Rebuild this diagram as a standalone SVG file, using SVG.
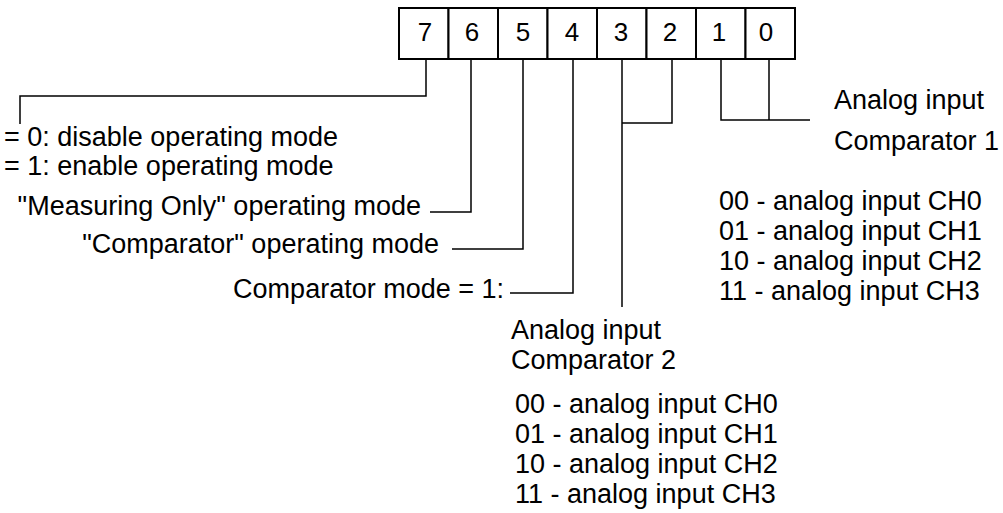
<svg xmlns="http://www.w3.org/2000/svg" width="1003" height="513" viewBox="0 0 1003 513">
  <style>
    .cell { fill: #ffffff; stroke: #000000; stroke-width: 2; }
    .bit { font-family: "Liberation Sans", Arial, sans-serif; font-size: 26px; fill: #000000; text-anchor: middle; }
    .lbl { font-family: "Liberation Sans", Arial, sans-serif; font-size: 27px; fill: #000000; }
    .end { text-anchor: end; }
    .wire { fill: none; stroke: #000000; stroke-width: 1.5; }
  </style>
  <rect width="1003" height="513" fill="#ffffff"/>

  <!-- register: bits 7..0 -->
  <g id="register">
    <rect class="cell" x="399" y="8" width="49.5" height="51"/>
    <rect class="cell" x="448.5" y="8" width="49.5" height="51"/>
    <rect class="cell" x="498" y="8" width="49.5" height="51"/>
    <rect class="cell" x="547.5" y="8" width="49.5" height="51"/>
    <rect class="cell" x="597" y="8" width="49.5" height="51"/>
    <rect class="cell" x="646.5" y="8" width="49.5" height="51"/>
    <rect class="cell" x="696" y="8" width="49.5" height="51"/>
    <rect class="cell" x="745.5" y="8" width="49.5" height="51"/>
    <text class="bit" x="425" y="41">7</text>
    <text class="bit" x="472" y="41">6</text>
    <text class="bit" x="523" y="41">5</text>
    <text class="bit" x="572" y="41">4</text>
    <text class="bit" x="621" y="41">3</text>
    <text class="bit" x="670" y="41">2</text>
    <text class="bit" x="719" y="41">1</text>
    <text class="bit" x="766" y="41">0</text>
  </g>

  <!-- leads from each bit to its description -->
  <g id="connectors">
    <polyline class="wire" points="426,59 426,96 20,96 20,124"/>
    <polyline class="wire" points="471,59 471,212 430,212"/>
    <polyline class="wire" points="523,59 523,249 452,249"/>
    <polyline class="wire" points="573,59 573,293 510,293"/>
    <polyline class="wire" points="622,59 622,307"/>
    <polyline class="wire" points="672,59 672,123 622,123"/>
    <polyline class="wire" points="721,59 721,120 810,120"/>
    <polyline class="wire" points="769,59 769,120"/>
  </g>

  <g id="bit7">
    <text class="lbl" x="4" y="146">= 0: disable operating mode</text>
    <text class="lbl" x="4" y="175">= 1: enable operating mode</text>
  </g>
  <g id="bit6">
    <text class="lbl end" x="421" y="215">"Measuring Only" operating mode</text>
  </g>
  <g id="bit5">
    <text class="lbl end" x="439" y="253">"Comparator" operating mode</text>
  </g>
  <g id="bit4">
    <text class="lbl end" x="504" y="298">Comparator mode = 1:</text>
  </g>
  <g id="bits3-2">
    <text class="lbl" x="511" y="339">Analog input</text>
    <text class="lbl" x="511" y="369">Comparator 2</text>
    <text class="lbl" x="515" y="413">00 - analog input CH0</text>
    <text class="lbl" x="515" y="443">01 - analog input CH1</text>
    <text class="lbl" x="515" y="473">10 - analog input CH2</text>
    <text class="lbl" x="515" y="503">11 - analog input CH3</text>
  </g>
  <g id="bits1-0">
    <text class="lbl" x="834" y="109">Analog input</text>
    <text class="lbl" x="834" y="150">Comparator 1</text>
    <text class="lbl" x="719" y="210">00 - analog input CH0</text>
    <text class="lbl" x="719" y="240">01 - analog input CH1</text>
    <text class="lbl" x="719" y="270">10 - analog input CH2</text>
    <text class="lbl" x="719" y="300">11 - analog input CH3</text>
  </g>
</svg>
